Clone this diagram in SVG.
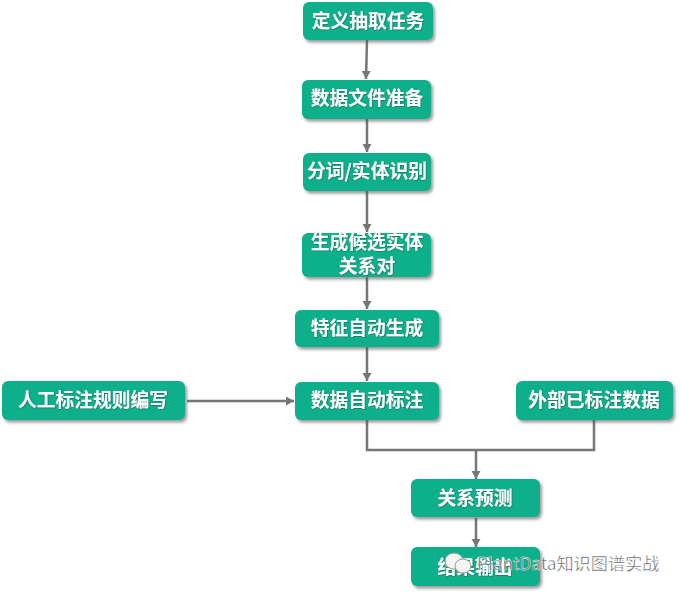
<svg xmlns="http://www.w3.org/2000/svg" width="680" height="594" viewBox="0 0 680 594">
<defs>
<filter id="sh" x="-10%" y="-20%" width="125%" height="150%"><feDropShadow dx="2" dy="2.5" stdDeviation="1.5" flood-color="#555" flood-opacity="0.6"/></filter>
<filter id="tsh" x="-10%" y="-20%" width="120%" height="140%"><feDropShadow dx="0.5" dy="0.5" stdDeviation="0.5" flood-color="#333" flood-opacity="0.7"/></filter>
<marker id="ah" markerUnits="userSpaceOnUse" markerWidth="10" markerHeight="10" refX="8" refY="4.5" orient="auto"><path d="M0 0L8 4.5L0 9z" fill="#767676"/></marker>
</defs>
<style>
.n rect{fill:#0fb08a;filter:url(#sh)}
.n text{fill:#fff;font:bold 18.8px "Noto Sans CJK SC","Liberation Sans",sans-serif;text-anchor:middle;filter:url(#tsh)}
.c path{fill:none;stroke:#767676;stroke-width:2.5}
.a{marker-end:url(#ah)}
.w{fill:#666;font:17.2px "Noto Sans CJK SC","Liberation Sans",sans-serif;stroke:#fff;stroke-width:.4}
.l{fill:#f4f4f4;stroke:#999;stroke-width:1}
</style>
<rect width="680" height="594" fill="#fff"/>
<g id="connectors" class="c">
<path class="a" d="M367 40L366 79"/>
<path class="a" d="M367 119V152"/>
<path class="a" d="M367 191V232"/>
<path class="a" d="M367 277V309"/>
<path class="a" d="M367 347V381"/>
<path class="a" d="M187 401H294"/>
<path d="M367 420V450H594V420"/>
<path class="a" d="M476 450V479"/>
<path class="a" d="M476 518V547"/>
</g>
<g id="n1" class="n"><rect x="303" y="2" width="130" height="38" rx="6"/><text x="368" y="28">定义抽取任务</text></g>
<g id="n2" class="n"><rect x="302" y="80" width="129" height="39" rx="6"/><text x="367" y="105">数据文件准备</text></g>
<g id="n3" class="n"><rect x="303" y="153" width="128" height="38" rx="6"/><text x="367" y="178">分词/实体识别</text></g>
<g id="n4" class="n"><rect x="302" y="233" width="129" height="44" rx="6"/><text x="367" y="249">生成候选实体</text><text x="367" y="273">关系对</text></g>
<g id="n5" class="n"><rect x="295" y="310" width="144" height="37" rx="6"/><text x="367" y="335">特征自动生成</text></g>
<g id="n6" class="n"><rect x="295" y="382" width="144" height="38" rx="6"/><text x="367" y="407">数据自动标注</text></g>
<g id="n7" class="n"><rect x="2" y="381" width="183" height="39" rx="6"/><text x="93" y="407">人工标注规则编写</text></g>
<g id="n8" class="n"><rect x="516" y="381" width="157" height="39" rx="6"/><text x="594" y="407">外部已标注数据</text></g>
<g id="n9" class="n"><rect x="411" y="479" width="129" height="38" rx="6"/><text x="475" y="505">关系预测</text></g>
<g id="n10" class="n"><rect x="411" y="547" width="129" height="39" rx="6"/><text x="475" y="574">结果输出</text></g>
<ellipse class="l" cx="454" cy="561" rx="9" ry="8"/>
<ellipse class="l" cx="463" cy="566" rx="8" ry="7"/>
<text class="w" x="477" y="570">PlantData知识图谱实战</text>
</svg>
